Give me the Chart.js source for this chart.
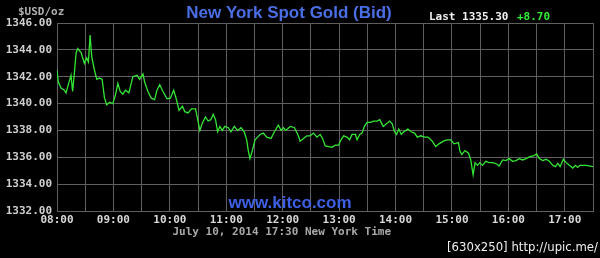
<!DOCTYPE html>
<html><head><meta charset="utf-8">
<script src="https://cdn.jsdelivr.net/npm/chart.js@4"></script>
<style>html,body{margin:0;padding:0;background:#000;}canvas{display:block}</style>
</head><body>
<canvas id="c" width="600" height="258"></canvas>
<script>
// minutes after 08:00 New York time
const times = [0,1.4,4.3,7.8,9.6,12.4,14.9,16.6,18.5,20.3,22,25.6,29.1,31.6,33.4,35.2,36.9,39.8,42.3,45.1,48,50.5,52.9,55.8,59.3,62.2,64.7,67.2,70,72.9,76.4,80.7,85,87.8,91.4,93.2,96.7,100.3,103.8,106.3,109.2,112.7,117,120.6,124.1,127,129.8,133.4,135.9,139.4,
143,147.3,149.4,151.9,154.3,157.9,160.7,163.6,166.1,168.6,170.8,173.2,175.7,178.5,182.1,185,188.5,192.1,195.6,199.1,201.7,203.4,205.2,207.7,210.6,213.4,215.9,219.4,223,227.6,231.2,235.4,238.3,240.8,243.3,247.9,252.5,256.1,258.6,262.1,265.7,269.3,272.8,276.4,279.9,282.4,285.3,
288.8,292.4,295.9,299.5,302,304.8,308.4,311.2,313.8,317.3,319.1,321.9,324.4,326.9,329.8,333.3,336.8,340.5,343.2,346.9,350.4,353.9,356.5,358.9,361.1,363.5,366.1,368.8,373.1,376.7,380.3,383.1,386.7,390.9,394.5,399.1,402.7,406.2,410.9,414.4,418.7,422.2,
426.9,428.3,430.4,433.9,437.6,440,442.5,444.6,447.2,449.6,452.5,456,459.6,463.8,467.5,470.2,473.9,477.4,480.9,484.5,488.1,491.6,495.2,498.8,503,506.5,510.1,512.9,516.5,520.1,523.6,527.2,530,532.6,535,538.5,541.4,544.9,548.5,551.3,553.6,556.1,562.5,569.9];
const prices = [1342.5,1341.6,1341.15,1341.0,1340.8,1341.5,1342.1,1340.9,1342.3,1343.75,1344.1,1343.8,1343.0,1343.4,1343.1,1345.1,1343.5,1342.5,1341.8,1341.9,1341.8,1340.4,1339.9,1340.1,1340.0,1340.65,1341.5,1340.9,1340.7,1341.0,1340.8,1342.0,1342.1,1341.8,1342.2,1341.6,1340.9,1340.4,1340.3,1341.0,1341.4,1340.9,1340.35,1340.4,1341.0,1340.3,1339.5,1339.8,1339.4,1339.3,
1339.6,1339.6,1338.9,1338.0,1338.5,1339.0,1338.7,1338.8,1339.2,1338.8,1337.9,1338.3,1338.0,1338.3,1338.2,1337.9,1338.3,1338.0,1338.2,1337.9,1337.3,1336.5,1335.9,1336.5,1337.3,1337.5,1337.7,1337.8,1337.5,1337.4,1337.9,1338.4,1338.0,1338.2,1338.0,1338.3,1338.2,1337.7,1337.2,1337.4,1337.6,1337.6,1337.8,1337.5,1337.7,1337.4,1336.85,
1336.8,1336.75,1336.9,1336.9,1337.3,1337.6,1337.5,1337.3,1337.7,1337.7,1337.3,1337.7,1337.8,1338.3,1338.6,1338.6,1338.7,1338.7,1338.8,1338.3,1338.5,1338.7,1338.5,1337.9,1337.7,1338.1,1337.7,1337.9,1338.1,1337.9,1337.8,1337.5,1337.6,1337.5,1337.5,1337.2,1336.8,1337.0,1337.2,1337.3,1337.3,1337.0,
1337.1,1336.5,1336.2,1336.5,1336.3,1335.8,1334.7,1335.6,1335.4,1335.6,1335.4,1335.7,1335.6,1335.6,1335.5,1335.35,1335.8,1335.75,1335.9,1335.7,1335.75,1335.9,1335.8,1335.9,1336.05,1336.1,1336.25,1335.9,1335.75,1335.85,1335.7,1335.4,1335.3,1335.55,1335.3,1335.85,1335.6,1335.4,1335.2,1335.4,1335.25,1335.4,1335.4,1335.3];
const hourLabels = ['08:00','09:00','10:00','11:00','12:00','13:00','14:00','15:00','16:00','17:00'];
const yMin = 1332, yMax = 1346, yStep = 2;
const xMin = 0, xMax = 570, xStep = 30;
const titleText = 'New York Spot Gold (Bid)';
const lastText = 'Last 1335.30';
const changeText = '+8.70';
const unitText = '$USD/oz';
const dateText = 'July 10, 2014 17:30 New York Time';
const siteText = 'www.kitco.com';
const creditText = '[630x250] http://upic.me/';

const MONO = "'DejaVu Sans Mono', monospace";
const SANS = "'Liberation Sans', Arial, sans-serif";
const GRID = '#5f5f5f';

const textPlugin = {
  id: 'texts',
  beforeDraw(chart) {
    const ctx = chart.ctx;
    ctx.save();
    ctx.fillStyle = '#000';
    ctx.fillRect(0, 0, chart.width, chart.height);
    ctx.restore();
  },
  afterDraw(chart) {
    const ctx = chart.ctx;
    ctx.save();
    ctx.textBaseline = 'alphabetic';
    ctx.textAlign = 'center';
    ctx.fillStyle = '#4a6ee6';
    ctx.font = "bold 17px " + SANS;
    ctx.fillText(titleText, 289, 17.5);
    ctx.fillStyle = '#3d60e2';
    ctx.fillText(siteText, 290, 207.5);
    ctx.textAlign = 'left';
    ctx.font = "bold 11px " + MONO;
    ctx.fillStyle = '#f0f0f0';
    ctx.fillText(lastText, 429, 20);
    ctx.fillStyle = '#33ee33';
    ctx.fillText(changeText, 517, 20);
    ctx.fillStyle = '#b0b0b0';
    ctx.fillText(unitText, 18, 15);
    ctx.fillStyle = '#a8a8a8';
    ctx.fillText(dateText, 172.5, 235);
    ctx.textAlign = 'right';
    ctx.fillStyle = '#eeeeee';
    ctx.font = "13px 'Liberation Sans Narrow', 'DejaVu Sans Condensed', sans-serif";
    ctx.fillText(creditText, 598, 251);
    ctx.restore();
  }
};

new Chart(document.getElementById('c'), {
  type: 'line',
  data: {
    datasets: [{
      data: times.map((t, i) => ({ x: t, y: prices[i] })),
      borderColor: '#33e633',
      borderWidth: 1.3,
      pointRadius: 0,
      tension: 0,
      fill: false
    }]
  },
  options: {
    responsive: false,
    animation: false,
    devicePixelRatio: 1,
    layout: { padding: { left: 0, right: 7, top: 23, bottom: 0 } },
    plugins: { legend: { display: false }, tooltip: { enabled: false }, title: { display: false } },
    scales: {
      x: {
        type: 'linear', min: xMin, max: xMax,
        afterFit(s) { s.height = 47; },
        grid: { color: GRID, lineWidth: 1, drawTicks: false },
        border: { color: GRID },
        ticks: {
          stepSize: xStep, autoSkip: false, maxRotation: 0, padding: 3,
          color: '#d8d8d8', font: { family: MONO, size: 11, weight: 'bold' },
          callback: v => (v % 60 === 0 ? hourLabels[v / 60] : '')
        }
      },
      y: {
        min: yMin, max: yMax,
        afterFit(s) { s.width = 57; },
        grid: { color: GRID, lineWidth: 1, drawTicks: false },
        border: { color: GRID },
        ticks: {
          stepSize: yStep, padding: 5,
          color: '#d0d0d0', font: { family: MONO, size: 11, weight: 'bold' },
          callback: v => v.toFixed(2)
        }
      }
    }
  },
  plugins: [textPlugin]
});
</script>
</body></html>
